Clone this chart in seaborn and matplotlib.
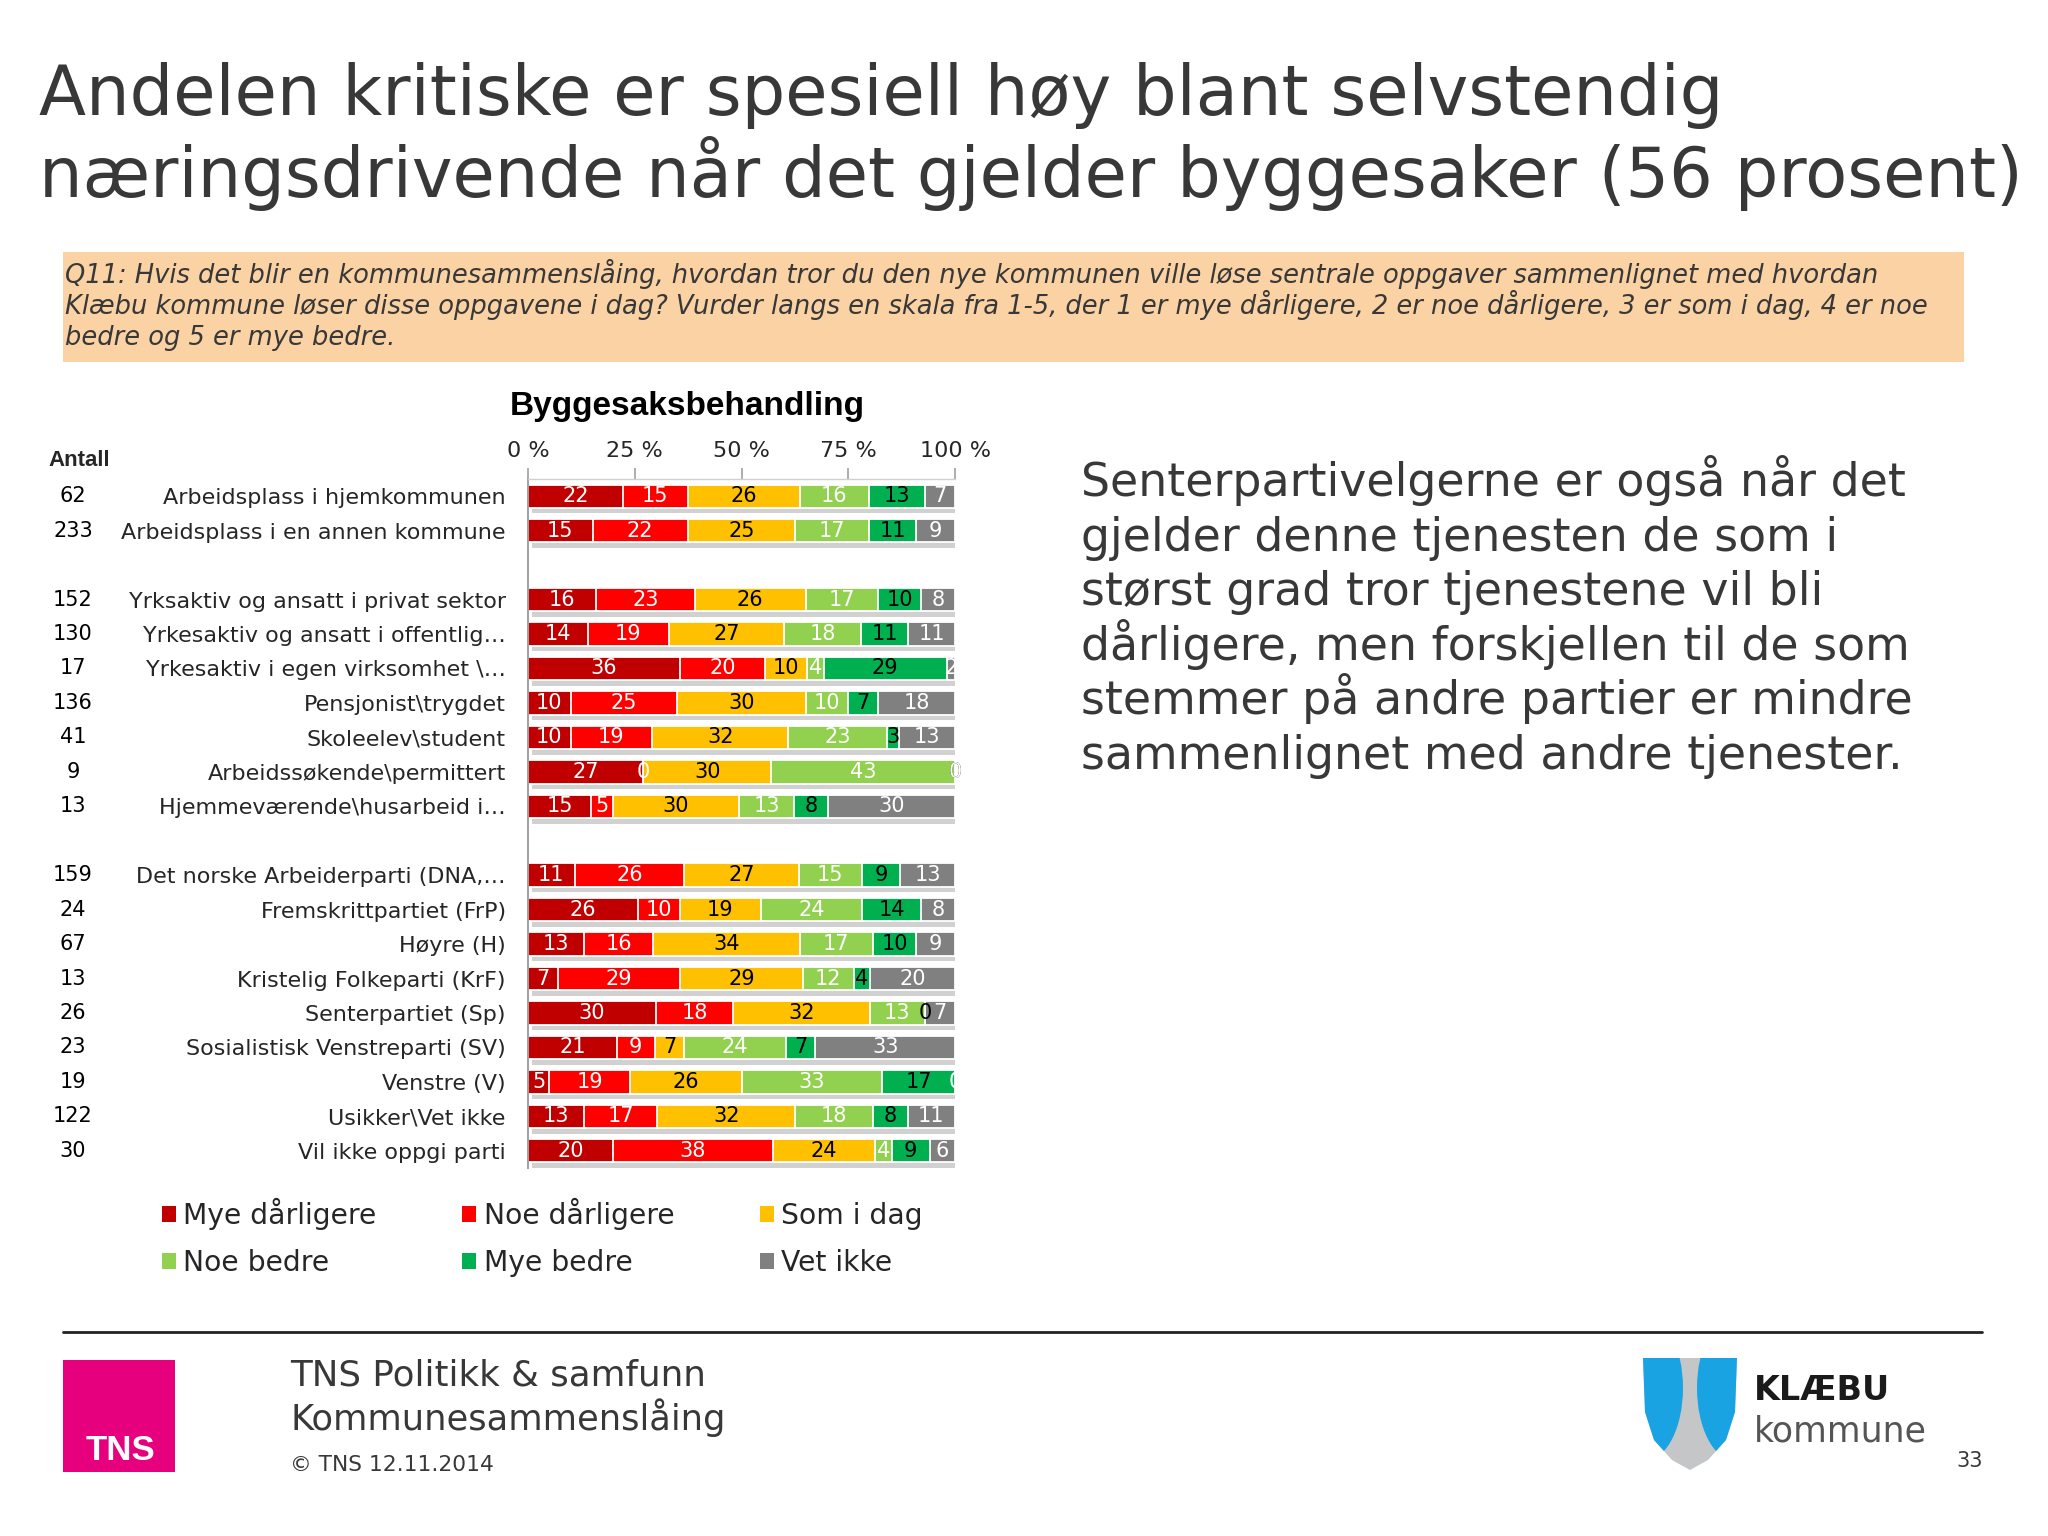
import numpy as np
import pandas as pd
import seaborn as sns
import matplotlib.pyplot as plt
from matplotlib import patheffects
from matplotlib.patches import Rectangle, Polygon, Ellipse, Patch
from matplotlib.transforms import blended_transform_factory

# Data (percent per answer)
answers = ["Mye dårligere", "Noe dårligere", "Som i dag", "Noe bedre", "Mye bedre", "Vet ikke"]
colors = ["#C00000", "#FF0000", "#FFC000", "#92D050", "#00B050", "#808080"]
label_colors = ["white", "white", "black", "white", "black", "white"]

groups = ["Arbeidsplass i hjemkommunen", "Arbeidsplass i en annen kommune", " ",
          "Yrksaktiv og ansatt i privat sektor", "Yrkesaktiv og ansatt i offentlig…",
          "Yrkesaktiv i egen virksomhet \\…", "Pensjonist\\trygdet", "Skoleelev\\student",
          "Arbeidssøkende\\permittert", "Hjemmeværende\\husarbeid i…", "  ",
          "Det norske Arbeiderparti (DNA,…", "Fremskrittpartiet (FrP)", "Høyre (H)",
          "Kristelig Folkeparti (KrF)", "Senterpartiet (Sp)", "Sosialistisk Venstreparti (SV)",
          "Venstre (V)", "Usikker\\Vet ikke", "Vil ikke oppgi parti"]
antall = [62, 233, None, 152, 130, 17, 136, 41, 9, 13, None, 159, 24, 67, 13, 26, 23, 19, 122, 30]

mye_darligere = [22, 15, None, 16, 14, 36, 10, 10, 27, 15, None, 11, 26, 13, 7, 30, 21, 5, 13, 20]
noe_darligere = [15, 22, None, 23, 19, 20, 25, 19, 0, 5, None, 26, 10, 16, 29, 18, 9, 19, 17, 38]
som_i_dag = [26, 25, None, 26, 27, 10, 30, 32, 30, 30, None, 27, 19, 34, 29, 32, 7, 26, 32, 24]
noe_bedre = [16, 17, None, 17, 18, 4, 10, 23, 43, 13, None, 15, 24, 17, 12, 13, 24, 33, 18, 4]
mye_bedre = [13, 11, None, 10, 11, 29, 7, 3, 0, 8, None, 9, 14, 10, 4, 0, 7, 17, 8, 9]
vet_ikke = [7, 9, None, 8, 11, 2, 18, 13, 0, 30, None, 13, 8, 9, 20, 7, 33, 0, 11, 6]

df = pd.DataFrame({"gruppe": groups, "antall": antall})
for name, vals in zip(answers, [mye_darligere, noe_darligere, som_i_dag, noe_bedre, mye_bedre, vet_ikke]):
    df[name] = vals
order = list(df["gruppe"])
data = df.dropna(subset=answers).copy()
share = data[answers].div(data[answers].sum(axis=1), axis=0) * 100
cum = share.cumsum(axis=1)
for k, name in enumerate(answers):
    data["cum%d" % k] = cum[name]

sns.set_style("white")
plt.rcParams["font.family"] = ["DejaVu Sans"]
txt = "#383838"

fig = plt.figure(figsize=(20.48, 15.36), dpi=100)

# Slide decorations in pixel coordinates
deco = fig.add_axes([0, 0, 1, 1], zorder=0)
deco.set_xlim(0, 2048)
deco.set_ylim(1536, 0)
deco.axis("off")

deco.text(39, 115, "Andelen kritiske er spesiell høy blant selvstendig", fontsize=49.5, color=txt, va="baseline")
deco.text(39, 197, "næringsdrivende når det gjelder byggesaker (56 prosent)", fontsize=49.5, color=txt, va="baseline")

deco.add_patch(Rectangle((63, 252), 1901, 110, facecolor="#FAD2A4", edgecolor="none"))
question = ["Q11: Hvis det blir en kommunesammenslåing, hvordan tror du den nye kommunen ville løse sentrale oppgaver sammenlignet med hvordan",
            "Klæbu kommune løser disse oppgavene i dag? Vurder langs en skala fra 1-5, der 1 er mye dårligere, 2 er noe dårligere, 3 er som i dag, 4 er noe",
            "bedre og 5 er mye bedre."]
for i, line in enumerate(question):
    deco.text(65, 283 + i * 31, line, fontsize=18.5, style="italic", color=txt, va="baseline")

comment = ["Senterpartivelgerne er også når det", "gjelder denne tjenesten de som i",
           "størst grad tror tjenestene vil bli", "dårligere, men forskjellen til de som",
           "stemmer på andre partier er mindre", "sammenlignet med andre tjenester."]
for i, line in enumerate(comment):
    deco.text(1081, 496 + i * 54.6, line, fontsize=33, color=txt, va="baseline")

deco.text(687, 407, "Byggesaksbehandling", fontsize=24, fontweight="bold", family="Liberation Sans",
          ha="center", va="center", color="black")
deco.text(48, 460, "Antall", fontsize=16, fontweight="bold", family="Liberation Sans", va="center")

# Footer
deco.plot([63, 1982], [1332, 1332], color="#222222", lw=2)
deco.add_patch(Rectangle((63, 1360), 112, 112, facecolor="#E6007E", edgecolor="none"))
deco.text(121, 1451, "TNS", fontsize=25, fontweight="bold", family="Liberation Sans", color="white",
          ha="center", va="center")
deco.text(290, 1376, "TNS Politikk & samfunn", fontsize=25.7, color=txt, va="center")
deco.text(290, 1418, "Kommunesammenslåing", fontsize=25.4, color=txt, va="center")
deco.text(290, 1465, "© TNS 12.11.2014", fontsize=15.7, color=txt, va="center")

shield = Polygon([(1643, 1358), (1737, 1358), (1735, 1412), (1726, 1440), (1708, 1460), (1690, 1470),
                  (1672, 1460), (1654, 1440), (1645, 1412)], closed=True, facecolor="#C4C6C8", edgecolor="none")
deco.add_patch(shield)
for cx in (1646, 1734):
    lobe = Ellipse((cx, 1388), 74, 144, facecolor="#1AA3E3", edgecolor="none")
    deco.add_patch(lobe)
    lobe.set_clip_path(shield)
deco.text(1754, 1390, "KLÆBU", fontsize=24, fontweight="bold", color="#1A1A1A", va="center")
deco.text(1754, 1431, "kommune", fontsize=25, color="#555555", va="center")
deco.text(1970, 1461, "33", fontsize=15, color=txt, va="center", ha="center")

# Chart
ax = fig.add_axes([528 / 2048, 1 - 1168 / 1536, 427 / 2048, 689 / 1536], zorder=2)
for k in reversed(range(len(answers))):
    n_before = len(ax.patches)
    sns.barplot(data=data, x="cum%d" % k, y="gruppe", order=order, orient="h", color=colors[k],
                saturation=1, width=0.68, edgecolor="white", linewidth=1.3, errorbar=None, ax=ax)
    if k == len(answers) - 1:
        for p in ax.patches[n_before:]:
            p.set_path_effects([patheffects.SimplePatchShadow(offset=(3, -4), shadow_rgbFace="#9a9a9a", alpha=0.45),
                                patheffects.Normal()])

for idx, row in data.iterrows():
    y = order.index(row["gruppe"])
    start = 0
    for k, name in enumerate(answers):
        end = row["cum%d" % k]
        ax.text((start + end) / 2, y, "%d" % row[name], ha="center", va="center",
                fontsize=15, color=label_colors[k], zorder=5)
        start = end

trans = blended_transform_factory(fig.transFigure, ax.transData)
for i, c in enumerate(antall):
    if c is not None:
        ax.text(73 / 2048, i, str(c), transform=trans, ha="center", va="center", fontsize=15, color="black")

ax.set_xlim(0, 100)
ax.set_ylim(len(order) - 0.5, -0.5)
ax.set_xticks([0, 25, 50, 75, 100], ["0 %", "25 %", "50 %", "75 %", "100 %"])
ax.xaxis.tick_top()
ax.tick_params(axis="x", length=8, width=1.2, color="#A0A0A0", pad=5, labelsize=16)
ax.tick_params(axis="y", which="major", length=0, pad=16, labelsize=16)
ax.set_yticks(np.arange(-0.5, len(order), 1), minor=True)
ax.tick_params(axis="y", which="minor", length=6, width=1.2, color="#A0A0A0")
ax.set_xlabel("")
ax.set_ylabel("")
for side in ("right", "bottom"):
    ax.spines[side].set_visible(False)
ax.spines["left"].set_color("#A0A0A0")
ax.spines["left"].set_linewidth(1.4)
ax.spines["top"].set_color("#D0D0D0")
ax.spines["top"].set_linewidth(1)

handles = [Patch(facecolor=c, edgecolor="none", label=a) for a, c in zip(answers, colors)]
handles = [handles[i] for i in (0, 3, 1, 4, 2, 5)]
fig.legend(handles=handles, ncol=3, loc="upper left", bbox_to_anchor=(162 / 2048, 1 - 1198 / 1536),
           frameon=False, fontsize=20.3, handlelength=0.5, handleheight=0.5, handletextpad=0.25,
           columnspacing=3.05, labelspacing=0.67, borderpad=0, borderaxespad=0)

fig.savefig("out.png", dpi=100)
